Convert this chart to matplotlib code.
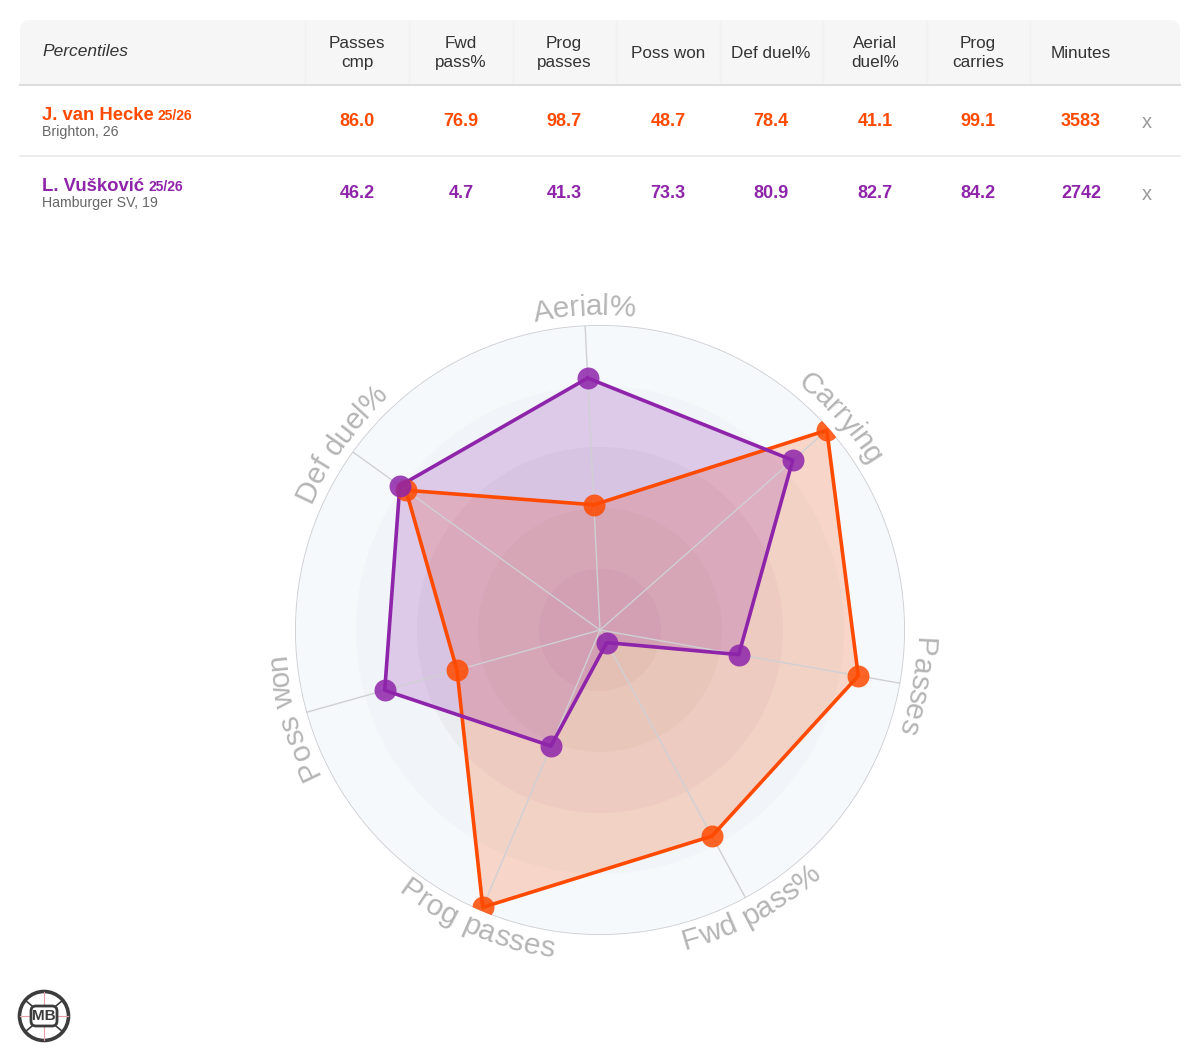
import numpy as np
import matplotlib.pyplot as plt
from matplotlib.patches import FancyBboxPatch, Rectangle, Circle
from matplotlib.textpath import TextToPath
from matplotlib.font_manager import FontProperties

plt.rcParams['font.family'] = ['Liberation Sans', 'DejaVu Sans']

# ---- data ----
columns = ['Passes\ncmp', 'Fwd\npass%', 'Prog\npasses', 'Poss won', 'Def duel%',
           'Aerial\nduel%', 'Prog\ncarries', 'Minutes']
players = ['J. van Hecke', 'L. Vušković']
seasons = ['25/26', '25/26']
clubs = ['Brighton, 26', 'Hamburger SV, 19']
hecke_pct = [86.0, 76.9, 98.7, 48.7, 78.4, 41.1, 99.1]
vuskovic_pct = [46.2, 4.7, 41.3, 73.3, 80.9, 82.7, 84.2]
minutes = [3583, 2742]

# radar axes (clockwise from top) and which table column feeds each one
radar_labels = ['Aerial%', 'Carrying', 'Passes', 'Fwd pass%', 'Prog passes', 'Poss won', 'Def duel%']
radar_cols = [5, 6, 0, 1, 2, 3, 4]
flipped = [False, False, False, True, True, False, False]

ORANGE = '#ff4a00'
PURPLE = '#8e24aa'
colors = [ORANGE, PURPLE]

W, H = 1200, 1061
fig = plt.figure(figsize=(12, 10.61), dpi=100)

# pixel-space axes for the table and logo
bg = fig.add_axes([0, 0, 1, 1])
bg.set_xlim(0, W)
bg.set_ylim(H, 0)
bg.axis('off')

# ---- table ----
bg.add_patch(FancyBboxPatch((20, 20), 1160, 64, boxstyle='round,pad=0,rounding_size=10',
                            fc='#f6f6f6', ec='none'))
bg.add_patch(Rectangle((20, 60), 1160, 24, fc='#f6f6f6', ec='none'))
bg.plot([20, 1180], [84.5, 84.5], color='#dedede', lw=1.5)
bg.plot([20, 1180], [155.5, 155.5], color='#e8e8e8', lw=1.2)

col_x = [357, 461, 564, 668, 771, 875, 978, 1081]
for x in [305] + [(a + b) / 2 for a, b in zip(col_x[:-1], col_x[1:])]:
    bg.plot([x, x], [22, 83], color='#f0f0f0', lw=1)

bg.text(42, 52, 'Percentiles', fontsize=12.5, style='italic', color='#333333', va='center')
for x, c in zip(col_x, columns):
    bg.text(x, 53, c, fontsize=12.3, color='#333333', ha='center', va='center',
            linespacing=1.4)

row_y = [121, 192]
for i, (vals, col) in enumerate(zip([hecke_pct, vuskovic_pct], colors)):
    y = row_y[i]
    name = bg.text(42, y - 1, players[i], fontsize=13.3, fontweight='bold', color=col,
                   va='baseline')
    bg.annotate(seasons[i], xy=(1, 0), xycoords=name, xytext=(4, 1),
                textcoords='offset pixels', fontsize=10, fontweight='bold', color=col,
                va='bottom')
    bg.text(42, y + 15, clubs[i], fontsize=10.2, color='#666666', va='baseline')
    for x, v in zip(col_x, vals + [minutes[i]]):
        s = f'{v:.1f}' if isinstance(v, float) else str(v)
        bg.text(x, y + 1, s, fontsize=13, fontweight='bold', color=col, ha='center',
                va='center')
    bg.text(1147, y + 2, 'x', fontsize=14.5, color='#9a9a9a', ha='center', va='center')

# ---- logo ----
lx, ly = 44, 1016
bg.add_patch(Circle((lx, ly), 24.5, fc='white', ec='#3c3c3c', lw=2.6, zorder=1))
bg.plot([lx - 24, lx + 24], [ly, ly], color='#e8a0a8', lw=0.8, zorder=1.5)
bg.plot([lx, lx], [ly - 24, ly + 24], color='#e8a0a8', lw=0.8, zorder=1.5)
for a in np.deg2rad([40, 140, 220, 320]):
    bg.plot([lx + 12 * np.cos(a), lx + 23 * np.cos(a)],
            [ly + 12 * np.sin(a), ly + 23 * np.sin(a)], color='#3c3c3c', lw=1.2, zorder=1.5)
bg.add_patch(FancyBboxPatch((lx - 13, ly - 10), 26, 20, boxstyle='round,pad=0,rounding_size=5',
                            fc='white', ec='#3c3c3c', lw=2, zorder=2))
bg.text(lx, ly + 0.5, 'MB', fontsize=11, fontweight='bold', color='#3c3c3c',
        ha='center', va='center', zorder=3)

# ---- radar ----
cx, cy, R = 600, 630, 305
ax = fig.add_axes([(cx - R) / W, 1 - (cy + R) / H, 2 * R / W, 2 * R / H], projection='polar')
ax.set_theta_offset(np.deg2rad(92.8))
ax.set_theta_direction(-1)
ax.set_ylim(0, 100)
ax.set_axis_off()

ring_edges = [100, 80, 60, 40, 20]
ring_colors = ['#f6f9fc', '#f1f4f8', '#eaecf0', '#e4e5e9', '#dedee2']
for r, c in zip(ring_edges, ring_colors):
    ax.bar(0, r, width=2 * np.pi, bottom=0, color=c, linewidth=0, align='edge')
full = np.linspace(0, 2 * np.pi, 400)
ax.plot(full, np.full_like(full, 100), color='#cdcdd2', lw=1.2)

n = len(radar_labels)
angles = np.arange(n) * 2 * np.pi / n
for a in angles:
    ax.plot([a, a], [0, 100], color='#d0d0d4', lw=1)

for vals, col in zip([hecke_pct, vuskovic_pct], colors):
    r = [vals[k] for k in radar_cols]
    th = np.append(angles, angles[0])
    rr = np.append(r, r[0])
    ax.fill(th, rr, color=col, alpha=0.2, lw=0)
    ax.plot(th, rr, color=col, lw=2.6)
    ax.scatter(angles, r, s=250, color=col, alpha=0.85, lw=0, zorder=5)

# curved axis labels
t2p = TextToPath()
prop = FontProperties(family='Liberation Sans', size=21.5)
px = fig.dpi / 72


def tw(s):
    return t2p.get_text_width_height_descent(s, prop, ismath=False)[0] * px


r_txt = 323
for lab, a, flip in zip(radar_labels, angles, flipped):
    total = tw(lab)
    for i, ch in enumerate(lab):
        if ch == ' ':
            continue
        centre = tw(lab[:i + 1]) - tw(ch) / 2 - total / 2
        d = centre / r_txt
        th = a - d if flip else a + d
        phi = 92.8 - np.rad2deg(th)
        rot = phi + 90 if flip else phi - 90
        ax.text(th, r_txt / R * 100, ch, fontproperties=prop, color='#b5b5b5',
                ha='center', va='center', rotation=rot, rotation_mode='anchor')

fig.savefig('out.png', dpi=100)
